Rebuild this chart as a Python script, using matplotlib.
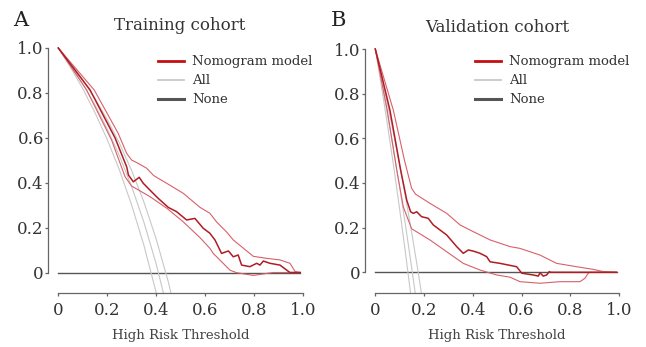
import matplotlib
matplotlib.use("Agg")
import matplotlib.pyplot as plt
from matplotlib.lines import Line2D

plt.rcParams['font.family'] = ['DejaVu Serif']

# ---------------- Training cohort ----------------
tr_mid_x = [0, 0.13, 0.232, 0.28, 0.287, 0.307, 0.331, 0.348, 0.375, 0.409, 0.45, 0.484, 0.525,
            0.559, 0.593, 0.62, 0.641, 0.668, 0.696, 0.716, 0.736, 0.75, 0.784, 0.812, 0.825,
            0.839, 0.866, 0.907, 0.934, 0.948, 0.99]
tr_mid_y = [1.0, 0.813, 0.60, 0.47, 0.434, 0.404, 0.424, 0.397, 0.367, 0.33, 0.29, 0.271, 0.234,
            0.241, 0.197, 0.175, 0.145, 0.085, 0.096, 0.07, 0.078, 0.033, 0.026, 0.041, 0.033,
            0.051, 0.041, 0.033, 0.011, 0.0, 0.0]
tr_up_x = [0, 0.147, 0.245, 0.28, 0.30, 0.327, 0.362, 0.39, 0.444, 0.511, 0.58, 0.62, 0.648,
           0.689, 0.716, 0.744, 0.798, 0.853, 0.907, 0.948, 0.969, 0.99]
tr_up_y = [1.0, 0.813, 0.62, 0.53, 0.501, 0.486, 0.464, 0.432, 0.397, 0.353, 0.29, 0.264, 0.225,
           0.18, 0.145, 0.12, 0.072, 0.063, 0.056, 0.041, 0.004, 0.0]
tr_lo_x = [0, 0.116, 0.218, 0.273, 0.30, 0.375, 0.444, 0.511, 0.58, 0.62, 0.634, 0.703, 0.73,
           0.798, 0.853, 0.88, 0.99]
tr_lo_y = [1.0, 0.813, 0.59, 0.427, 0.385, 0.338, 0.286, 0.226, 0.155, 0.108, 0.085, 0.01, -0.001,
           -0.013, -0.004, 0.0, 0.0]
tr_all_x = [0, 0.05, 0.1, 0.15, 0.2, 0.25, 0.3, 0.35, 0.4, 0.45, 0.5]
tr_all_lo = [1.0, 0.914, 0.819, 0.712, 0.593, 0.457, 0.301, 0.122, -0.087, -0.33, -0.63]
tr_all_md = [1.0, 0.924, 0.84, 0.746, 0.64, 0.52, 0.383, 0.225, 0.04, -0.178, -0.44]
tr_all_up = [1.0, 0.933, 0.859, 0.775, 0.682, 0.576, 0.454, 0.315, 0.151, -0.041, -0.273]

# ---------------- Validation cohort ----------------
va_mid_x = [0, 0.06, 0.104, 0.129, 0.145, 0.156, 0.17, 0.19, 0.217, 0.238, 0.293, 0.334, 0.361,
            0.382, 0.402, 0.43, 0.457, 0.471, 0.512, 0.58, 0.601, 0.648, 0.669, 0.676, 0.689,
            0.703, 0.714, 0.72, 0.99]
va_mid_y = [1.0, 0.726, 0.458, 0.323, 0.271, 0.264, 0.271, 0.249, 0.242, 0.212, 0.167, 0.115, 0.085,
            0.1, 0.095, 0.085, 0.07, 0.047, 0.04, 0.025, -0.004, -0.012, -0.017, -0.002, -0.017,
            -0.012, 0.003, 0.0, 0.0]
va_up_x = [0, 0.074, 0.12, 0.149, 0.165, 0.224, 0.293, 0.348, 0.402, 0.471, 0.553, 0.594, 0.676,
           0.744, 0.826, 0.895, 0.936, 0.99]
va_up_y = [1.0, 0.726, 0.50, 0.376, 0.35, 0.309, 0.264, 0.212, 0.182, 0.145, 0.115, 0.107, 0.077,
           0.04, 0.025, 0.013, 0.003, 0.0]
va_lo_x = [0, 0.049, 0.088, 0.115, 0.149, 0.224, 0.293, 0.361, 0.43, 0.498, 0.553, 0.594, 0.676,
           0.758, 0.84, 0.86, 0.874, 0.88, 0.99]
va_lo_y = [1.0, 0.726, 0.458, 0.293, 0.195, 0.145, 0.092, 0.04, 0.01, -0.012, -0.022, -0.042, -0.049,
           -0.042, -0.042, -0.027, -0.004, 0.0, 0.0]
va_all_x = [0, 0.025, 0.05, 0.075, 0.1, 0.125, 0.15, 0.175, 0.2, 0.225]
va_all_lo = [1.0, 0.834, 0.66, 0.476, 0.282, 0.077, -0.14, -0.37, -0.62, -0.88]
va_all_md = [1.0, 0.857, 0.706, 0.547, 0.38, 0.203, 0.015, -0.18, -0.40, -0.62]
va_all_up = [1.0, 0.88, 0.754, 0.62, 0.48, 0.331, 0.174, 0.007, -0.17, -0.36]

none_x = [0, 0.99]
none_y = [0, 0]

ticks = [0, 0.2, 0.4, 0.6, 0.8, 1.0]
tick_labels = ["0", "0.2", "0.4", "0.6", "0.8", "1.0"]
legend_labels = ["Nomogram model", "All", "None"]

C_MID = '#b01c24'
C_CI = '#d8606a'
C_ALL = '#c8c8c8'
C_NONE = '#555555'

W, H = 646, 347
fig = plt.figure(figsize=(W / 100, H / 100), dpi=100)


def make_axes(left_px, x0_px, x1_px, y1_px, y0_px, bot_px):
    ppu_x = x1_px - x0_px
    ppu_y = y0_px - y1_px
    xl = -(x0_px - left_px) / ppu_x
    xr = 1 - xl
    yb = -(bot_px - y0_px) / ppu_y
    yt = 1.025
    right_px = x0_px + xr * ppu_x
    top_px = y0_px - yt * ppu_y
    ax = fig.add_axes([left_px / W, 1 - bot_px / H, (right_px - left_px) / W, (bot_px - top_px) / H])
    ax.set_xlim(xl, xr)
    ax.set_ylim(yb, yt)
    return ax


axA = make_axes(48.3, 58.3, 302.7, 48.0, 272.5, 293.3)
axB = make_axes(364.7, 375.3, 619.0, 49.0, 272.3, 293.0)

panels = [
    (axA, tr_mid_x, tr_mid_y, tr_up_x, tr_up_y, tr_lo_x, tr_lo_y, tr_all_x, [tr_all_lo, tr_all_md, tr_all_up]),
    (axB, va_mid_x, va_mid_y, va_up_x, va_up_y, va_lo_x, va_lo_y, va_all_x, [va_all_lo, va_all_md, va_all_up]),
]

for ax, mx, my, ux, uy, lx, ly, ax_x, alls in panels:
    ax.plot(none_x, none_y, color=C_NONE, lw=1.0, zorder=1)
    for a in alls:
        ax.plot(ax_x, a, color=C_ALL, lw=0.8, zorder=2)
    ax.plot(ux, uy, color=C_CI, lw=0.8, zorder=3)
    ax.plot(lx, ly, color=C_CI, lw=0.8, zorder=3)
    ax.plot(mx, my, color=C_MID, lw=1.1, zorder=4)
    for s in ['top', 'right']:
        ax.spines[s].set_visible(False)
    for s in ['left', 'bottom']:
        ax.spines[s].set_color('#666666')
        ax.spines[s].set_linewidth(0.9)
        ax.spines[s].set_bounds(0, 1)
    ax.set_xticks(ticks)
    ax.set_xticklabels(tick_labels)
    ax.set_yticks(ticks)
    ax.set_yticklabels(tick_labels)
    ax.tick_params(axis='both', labelsize=12, colors='#666666', labelcolor='#333333', width=0.9)
    ax.tick_params(axis='y', length=2.2, pad=1)
    ax.tick_params(axis='x', length=2.5, pad=4)
    ax.set_xlabel("High Risk Threshold", fontsize=9.5, color='#444444', labelpad=7)
    ax.patch.set_alpha(0)

handles = [Line2D([], [], color='#c41010', lw=2.0),
           Line2D([], [], color='#c4c4c4', lw=1.2),
           Line2D([], [], color='#555555', lw=2.2)]

for lx in (158.0, 474.7):
    fig.legend(handles, legend_labels, loc='upper left', bbox_to_anchor=(lx / W, 1 - 55.5 / H),
               bbox_transform=fig.transFigure, frameon=False, fontsize=9.5, borderpad=0,
               borderaxespad=0, handlelength=2.0, handletextpad=0.6, labelspacing=0.45,
               labelcolor='#333333')

fig.text(13 / W, 1 - 26 / H, "A", fontsize=15, color='#222222', va='baseline', ha='left')
fig.text(331 / W, 1 - 26.5 / H, "B", fontsize=15, color='#222222', va='baseline', ha='left')
fig.text(180 / W, 1 - 30.5 / H, "Training cohort", fontsize=12, color='#333333', va='baseline', ha='center')
fig.text(497 / W, 1 - 31.5 / H, "Validation cohort", fontsize=12, color='#333333', va='baseline', ha='center')

fig.savefig("out.png", dpi=100)
